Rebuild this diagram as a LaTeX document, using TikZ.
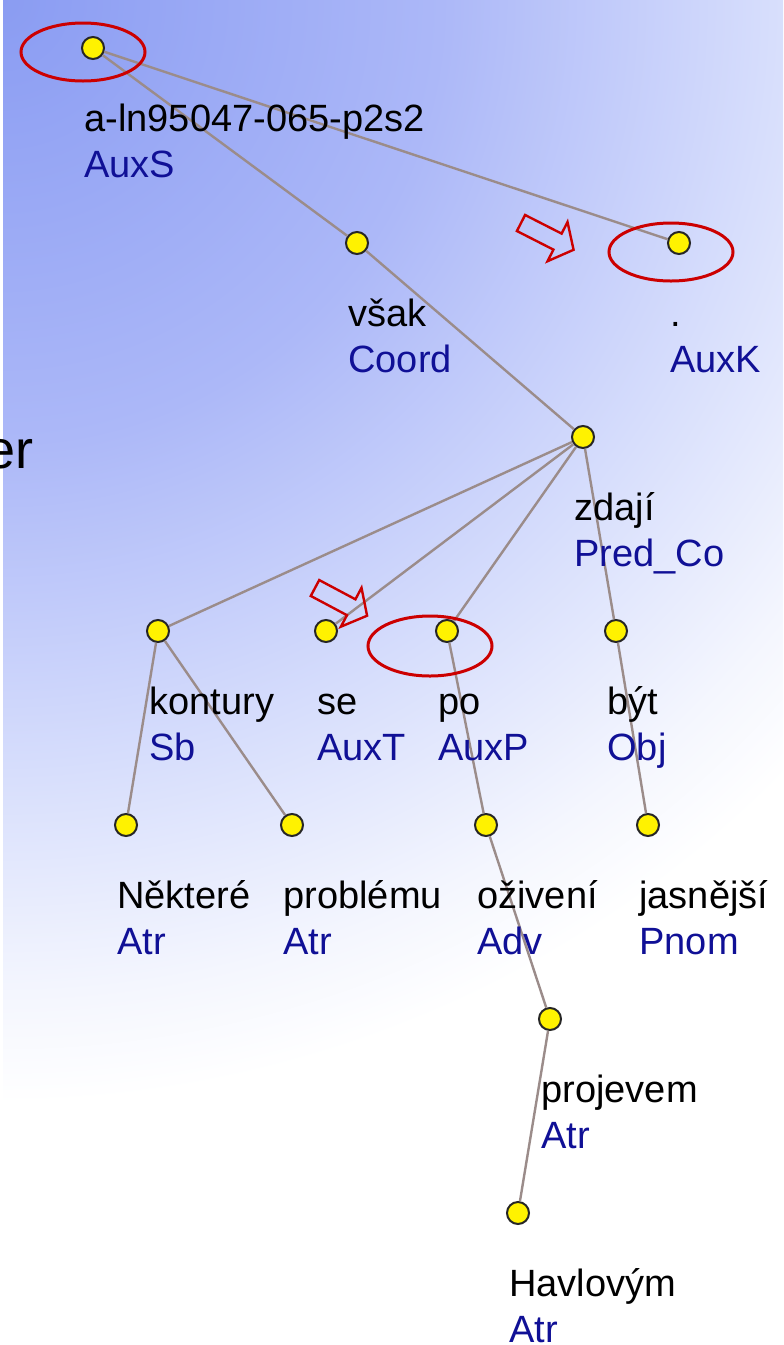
\documentclass[tikz,border=0pt]{standalone}
\usepackage{fontspec}
\setmainfont{Liberation Sans}
\usepackage{xcolor}
\definecolor{Tree Edge}{RGB}{155,140,138}
\colorlet{cEdge}{Tree Edge}
\definecolor{Role Blue}{RGB}{16,16,150}
\colorlet{cRole}{Role Blue}
\definecolor{Mark Red}{RGB}{204,0,0}
\colorlet{cRed}{Mark Red}
\definecolor{bgA}{RGB}{138,156,242}
\definecolor{bgB}{RGB}{172,184,248}
\definecolor{bgC}{RGB}{215,222,252}
\definecolor{bgD}{RGB}{244,246,254}
\usetikzlibrary{positioning}
\pgfdeclareradialshading{bgfade}{\pgfpoint{0bp}{0bp}}{color(0bp)=(bgA); color(10bp)=(bgB); color(17.5bp)=(bgC); color(22.5bp)=(bgD); color(25bp)=(white); color(50bp)=(white)}
\tikzset{
	x = .5pt,
	y = -.5pt,
	font = \fontsize{19}{23}\selectfont,
	vertex/.style={
		draw=black!85,
		fill=yellow,
		circle,
		line width=1pt,
		minimum size=11pt,
		inner sep=0pt
	},
	edge/.style={
		draw=cEdge,
		line width=1.2pt
	},
	word/.style={
		anchor=base west,
		inner sep=0pt
	},
	role/.style={
		word,
		text=cRole
	},
	hilite/.style={
		draw=cRed,
		line width=1.5pt
	},
	hollow arrow/.style={
		draw=cRed,
		line width=1.2pt,
		line join=miter
	}
}

\begin{document}
\begin{tikzpicture}
        \clip (0,0) rectangle (783,1345);
        \fill[white] (0,0) rectangle (783,1345);
        \begin{scope}
            \clip (3,0) rectangle (783,1345);
            % 25bp of the shading = 1100px
            \pgftransformscale{22}\pgflowlevelsynccm\pgfuseshading{bgfade}
        \end{scope}
        \node[anchor=base east, inner sep=0pt, font=\fontsize{27}{30}\selectfont] (er) at (34,468) {er};
        % tree
        \node[vertex] (root) at (93,48) {};
        \node[vertex] (vsak) at (357,243) {};
        \node[vertex] (tecka) at (679,243) {};
        \node[vertex] (zdaji) at (583,437) {};
        \node[vertex] (kontury) at (158,631) {};
        \node[vertex] (se) at (326,631) {};
        \node[vertex] (po) at (447,631) {};
        \node[vertex] (byt) at (616,631) {};
        \node[vertex] (nektere) at (126,825) {};
        \node[vertex] (problemu) at (292,825) {};
        \node[vertex] (oziveni) at (486,825) {};
        \node[vertex] (jasnejsi) at (648,825) {};
        \node[vertex] (projevem) at (550,1019) {};
        \node[vertex] (havlovym) at (518,1213) {};
        \draw[edge] (root) edge (vsak)
            (root) edge (tecka)
            (vsak) edge (zdaji)
            (zdaji) edge (kontury)
            (zdaji) edge (se)
            (zdaji) edge (po)
            (zdaji) edge (byt)
            (kontury) edge (nektere)
            (kontury) edge (problemu)
            (po) edge (oziveni)
            (byt) edge (jasnejsi)
            (oziveni) edge (projevem)
            (projevem) edge (havlovym);
        \foreach \v/\w/\r in {root/a-ln95047-065-p2s2/AuxS, vsak/však/Coord,
            tecka/./AuxK, zdaji/zdají/Pred\_Co, kontury/kontury/Sb, se/se/AuxT,
            po/po/AuxP, byt/být/Obj, nektere/Některé/Atr, problemu/problému/Atr,
            oziveni/oživení/Adv, jasnejsi/jasnější/Pnom, projevem/projevem/Atr,
            havlovym/Havlovým/Atr} {
            \node[word] (\v-w) at ([shift={(-9,83)}]\v.center) {\w};
            \node[role] (\v-r) at ([shift={(0,46)}]\v-w.base west) {\r};
        }
        % red marks
        \draw[hilite] (83,52) ellipse [x radius=62, y radius=29];
        \draw[hilite] (671,252) ellipse [x radius=62, y radius=29];
        \draw[hilite] (430,646) ellipse [x radius=62, y radius=30];
        \draw[hollow arrow, shift={(521,223)}, rotate=-27]
            (0,-9) -- (41,-9) -- (41,-22) -- (59,0) -- (41,22) -- (41,9) -- (0,9) -- cycle;
        \draw[hollow arrow, shift={(315,588)}, rotate=-28]
            (0,-9) -- (41,-9) -- (41,-22) -- (59,0) -- (41,22) -- (41,9) -- (0,9) -- cycle;
    \end{tikzpicture}
\end{document}
